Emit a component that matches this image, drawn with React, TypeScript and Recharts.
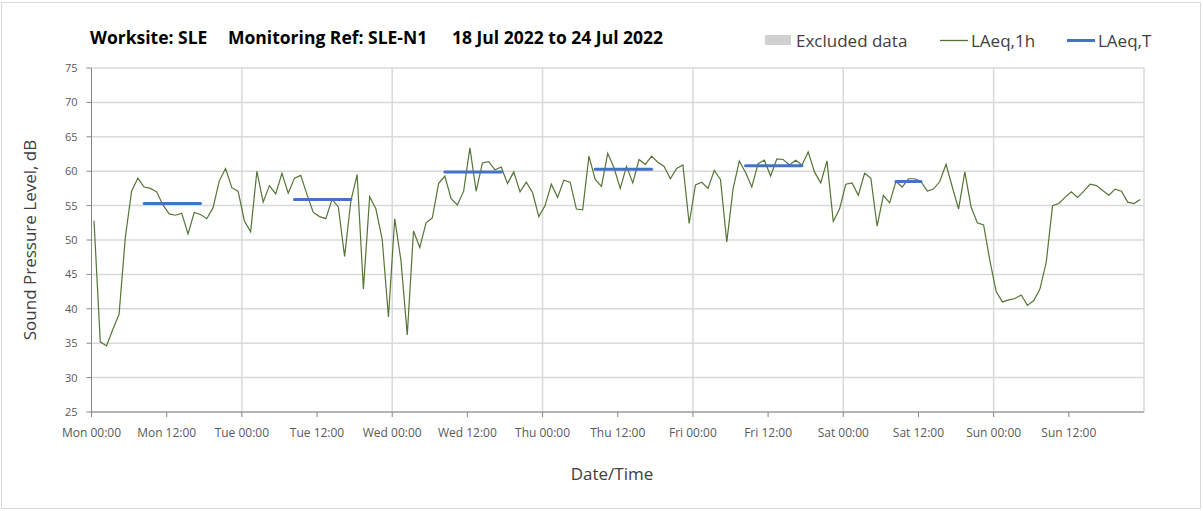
import { LineChart, Line, XAxis, YAxis, CartesianGrid, ReferenceLine } from "recharts";

const DAYS = ["Mon", "Tue", "Wed", "Thu", "Fri", "Sat", "Sun"];
const TICK_LABELS = DAYS.flatMap((d) => [`${d} 00:00`, `${d} 12:00`]);
const Y_TICKS = [25, 30, 35, 40, 45, 50, 55, 60, 65, 70, 75];

// hourly LAeq,1h, one array per day (00:00 .. 23:00)
const MON = [52.8, 35.2, 34.6, 37.0, 39.2, 50.4, 57.1, 59.0, 57.7, 57.5, 57.0, 55.1, 53.8, 53.6, 53.9, 50.9, 54.0, 53.7, 53.1, 54.7, 58.6, 60.4, 57.6, 57.1];
const TUE = [52.8, 51.2, 60.0, 55.5, 57.9, 56.7, 59.7, 56.8, 59.0, 59.4, 56.6, 54.0, 53.4, 53.1, 55.9, 54.8, 47.6, 55.7, 59.5, 42.9, 56.3, 54.5, 50.1, 38.8];
const WED = [53.1, 47.0, 36.2, 51.3, 48.9, 52.5, 53.2, 58.2, 59.3, 56.0, 55.1, 57.1, 63.4, 57.1, 61.2, 61.4, 60.2, 60.6, 58.2, 59.9, 57.0, 58.4, 56.9, 53.4];
const THU = [55.0, 58.1, 56.2, 58.7, 58.4, 54.5, 54.4, 62.2, 58.8, 57.8, 62.6, 60.5, 57.5, 60.7, 58.3, 61.7, 61.0, 62.2, 61.3, 60.7, 58.9, 60.4, 60.9, 52.4];
const FRI = [58.0, 58.4, 57.5, 60.1, 58.8, 49.7, 57.4, 61.5, 59.8, 57.7, 61.1, 61.6, 59.3, 61.8, 61.7, 60.9, 61.6, 60.9, 62.8, 59.9, 58.3, 61.5, 52.7, 54.5];
const SAT = [58.1, 58.3, 56.5, 59.7, 59.0, 52.0, 56.5, 55.4, 58.5, 57.7, 58.9, 58.9, 58.5, 57.1, 57.4, 58.5, 61.0, 57.7, 54.5, 59.9, 54.8, 52.5, 52.2, 47.0];
const SUN = [42.5, 41.0, 41.3, 41.5, 42.0, 40.5, 41.2, 42.9, 46.8, 55.0, 55.3, 56.2, 57.0, 56.2, 57.1, 58.1, 57.9, 57.2, 56.5, 57.4, 57.1, 55.5, 55.3, 55.9];
const LAEQ_1H = [...MON, ...TUE, ...WED, ...THU, ...FRI, ...SAT, ...SUN];

// LAeq,T over the daytime period: day index, start hour, end hour, level
const LAEQ_T = [
  { day: 0, start: 8, end: 17, level: 55.3 },
  { day: 1, start: 8, end: 17, level: 55.9 },
  { day: 2, start: 8, end: 17, level: 59.9 },
  { day: 3, start: 8, end: 17, level: 60.3 },
  { day: 4, start: 8, end: 17, level: 60.8 },
  { day: 5, start: 8, end: 12, level: 58.5 },
];

const OFFSET = 0.4; // samples sit a little after the hour mark

const hourly = LAEQ_1H.map((v, i) => ({ t: i + OFFSET, v }));

const FONT = "'Open Sans', sans-serif";
const GRID = "#d9d9d9";
const AXIS = "#868686";
const GREEN = "#557536";
const BLUE = "#4472c4";

export default function App() {
  return (
    <div style={{ position: "absolute", left: 0, top: 0, width: 1203, height: 511, background: "#fff", fontFamily: FONT }}>
      <div style={{ position: "absolute", left: 1, top: 2, width: 1200, height: 507, border: `1px solid ${GRID}`, boxSizing: "border-box" }} />
      <div style={{ position: "absolute", left: 0, top: 0 }}>
        <LineChart width={1203} height={511} margin={{ top: 68, right: 59, bottom: 69, left: 51.5 }}>
          <CartesianGrid vertical={false} stroke={GRID} strokeWidth={1.5} />
          {[1, 2, 3, 4, 5, 6, 7].map((d) => (
            <ReferenceLine key={d} x={d * 24} stroke={GRID} strokeWidth={1.5} />
          ))}
          <XAxis
            type="number"
            dataKey="t"
            domain={[0, 168]}
            ticks={TICK_LABELS.map((_, i) => i * 12)}
            tickFormatter={(v) => TICK_LABELS[v / 12] ?? ""}
            interval={0}
            allowDuplicatedCategory={false}
            height={30}
            stroke={AXIS}
            tickSize={5}
            tickMargin={11}
            tick={{ fontSize: 12, fill: "#595959", fontFamily: FONT }}
          />
          <YAxis
            type="number"
            domain={[25, 75]}
            ticks={Y_TICKS}
            interval={0}
            width={40}
            stroke={AXIS}
            tickSize={5}
            tickMargin={9}
            tick={{ fontSize: 11, fill: "#595959", fontFamily: FONT }}
          />
          <Line data={hourly} dataKey="v" type="linear" stroke={GREEN} strokeWidth={1.2} dot={false} isAnimationActive={false} />
          {LAEQ_T.map((p) => (
            <Line
              key={p.day}
              data={[
                { t: p.day * 24 + p.start + OFFSET, v: p.level },
                { t: p.day * 24 + p.end + OFFSET, v: p.level },
              ]}
              dataKey="v"
              type="linear"
              stroke={BLUE}
              strokeWidth={3}
              strokeLinecap="round"
              dot={false}
              isAnimationActive={false}
            />
          ))}
        </LineChart>
      </div>
      <svg width={1203} height={511} style={{ position: "absolute", left: 0, top: 0, pointerEvents: "none" }}>
        <g fontFamily={FONT} fontWeight="bold" fontSize={17.5} fill="#000">
          <text x={90} y={44}>Worksite: SLE</text>
          <text x={228} y={44}>Monitoring Ref: SLE-N1</text>
          <text x={452} y={44}>18 Jul 2022 to 24 Jul 2022</text>
        </g>
        <g fontFamily={FONT} fontSize={17} fill="#404040">
          <rect x={765} y={35} width={26} height={10} fill="#d0d0d0" />
          <text x={796} y={47}>Excluded data</text>
          <line x1={940} x2={968} y1={40.5} y2={40.5} stroke={GREEN} strokeWidth={1.3} />
          <text x={971} y={47}>LAeq,1h</text>
          <line x1={1067} x2={1095} y1={40.5} y2={40.5} stroke={BLUE} strokeWidth={3} />
          <text x={1098} y={47}>LAeq,T</text>
        </g>
        <text x={31} y={240} transform="rotate(-90 31 240)" textAnchor="middle" dominantBaseline="middle" fontFamily={FONT} fontSize={17} fill="#404040">
          Sound Pressure Level, dB
        </text>
        <text x={612} y={480} textAnchor="middle" fontFamily={FONT} fontSize={17} fill="#404040">
          Date/Time
        </text>
      </svg>
    </div>
  );
}
